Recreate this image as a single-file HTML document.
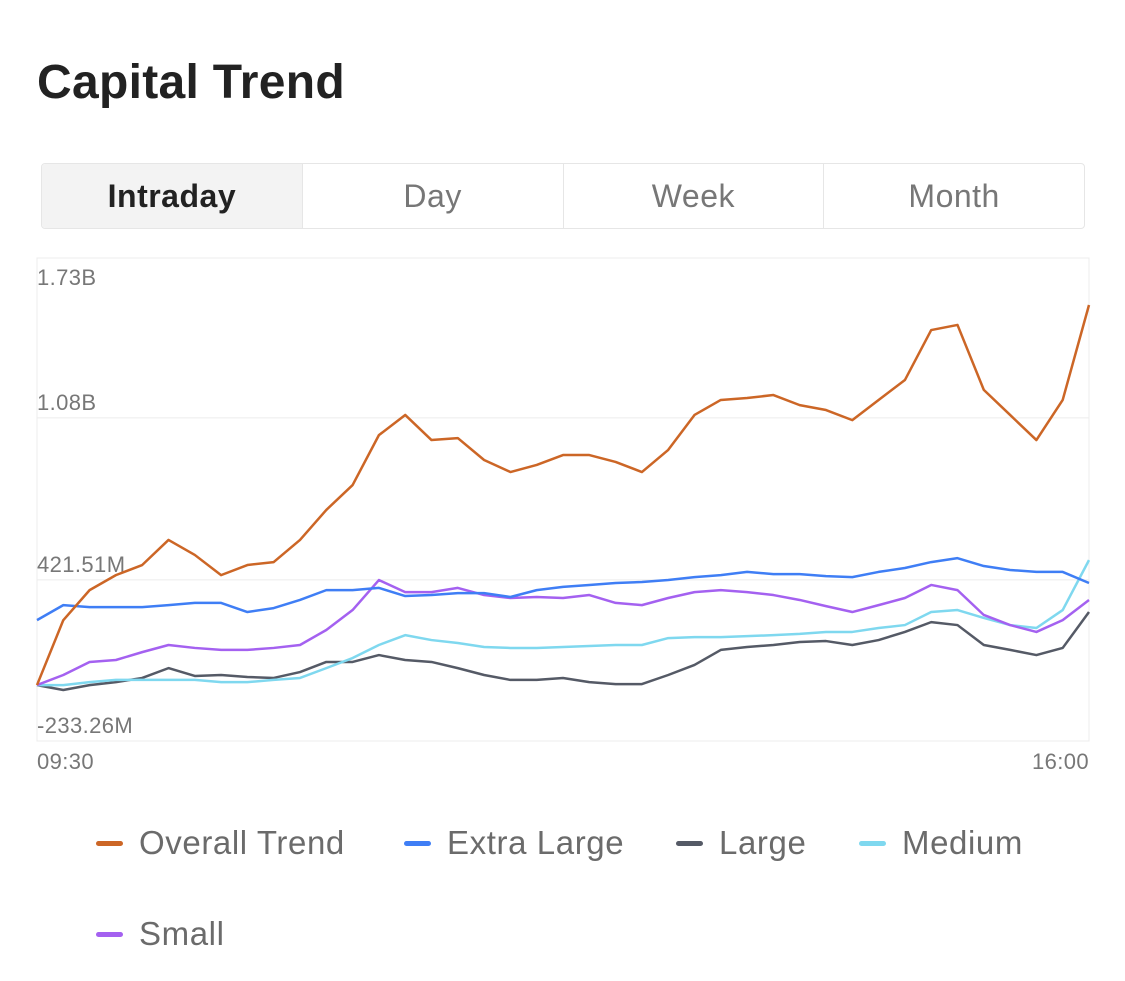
<!DOCTYPE html>
<html><head><meta charset="utf-8"><style>
body{margin:0;width:1125px;height:981px;background:#fff;font-family:"Liberation Sans",sans-serif;overflow:hidden;position:relative}
#title{position:absolute;left:37px;top:55px;font-size:48px;font-weight:bold;color:#222;letter-spacing:0.3px}
#tabs{position:absolute;left:41px;top:163px;width:1042px;height:64px;border:1px solid #e6e6e6;border-radius:4px;display:flex;overflow:hidden}
.tab{flex:1;display:flex;align-items:center;justify-content:center;font-size:32px;color:#777;border-left:1px solid #e6e6e6;letter-spacing:0.5px}
.tab:first-child{border-left:none;background:#f3f3f3;color:#222;font-weight:bold}
.leg{position:absolute;font-size:33px;color:#6b6b6b;display:flex;align-items:center;letter-spacing:0.6px}
.leg i{display:inline-block;width:27px;height:5px;border-radius:3px;margin-right:16px}
</style></head><body>
<div id="title">Capital Trend</div>
<div id="tabs">
<div class="tab">Intraday</div>
<div class="tab">Day</div>
<div class="tab">Week</div>
<div class="tab">Month</div>
</div>
<svg id="chart" width="1125" height="981" style="position:absolute;left:0;top:0"></svg>
<div class="leg" style="left:96px;top:824px"><i style="background:#cc6626"></i>Overall Trend</div>
<div class="leg" style="left:404px;top:824px"><i style="background:#3f7ef5"></i>Extra Large</div>
<div class="leg" style="left:676px;top:824px"><i style="background:#555a66"></i>Large</div>
<div class="leg" style="left:859px;top:824px"><i style="background:#7fd8ef"></i>Medium</div>
<div class="leg" style="left:96px;top:915px"><i style="background:#a461f0"></i>Small</div>
<script>
const yTicks=[1730,1080,421.51,-233.26];
const yTickLabels=["1.73B","1.08B","421.51M","-233.26M"];
const xLabels=["09:30","16:00"];
const overall=[-6,258,380,441,482,584,523,441,482,494,584,706,807,1010,1092,990,998,909,860,889,929,929,901,860,950,1092,1153,1161,1173,1132,1112,1071,1153,1234,1437,1458,1194,1092,990,1153,1539];
const extraLarge=[258,319,311,311,311,319,328,328,291,307,340,380,380,389,356,360,368,368,352,380,393,401,409,413,421,433,441,454,445,445,437,433,454,470,494,510,478,462,454,454,409];
const large=[-6,-26,-6,6,23,63,31,35,27,23,47,88,88,116,96,88,63,35,15,15,23,6,-2,-2,35,76,137,149,157,169,173,157,177,210,250,238,157,137,116,145,291];
const medium=[-6,-6,6,15,15,15,15,6,6,15,23,63,104,157,197,177,165,149,145,145,149,153,157,157,185,189,189,193,197,202,210,210,226,238,291,299,267,238,226,299,502];
const small=[-6,35,88,96,128,157,145,137,137,145,157,218,299,421,372,372,389,360,348,352,348,360,328,319,348,372,380,372,360,340,315,291,319,348,401,380,279,238,210,258,340];
const svg=document.getElementById('chart');const NS='http://www.w3.org/2000/svg';
const L=37,R=1089,T=258,B=741,vmax=1730,vmin=-233.26;
const yS=v=>T+(vmax-v)/(vmax-vmin)*(B-T);
const xS=i=>L+i/(overall.length-1)*(R-L);
function mk(t,a){const e=document.createElementNS(NS,t);for(const k in a)e.setAttribute(k,a[k]);svg.appendChild(e);return e;}
const fr=mk('rect',{x:L,y:T,width:R-L,height:B-T,fill:'none',stroke:'#ececec','stroke-width':1});


yTicks.forEach((v,i)=>{const y=yS(v);
const g=mk('line',{x1:L,x2:R,y1:y,y2:y,stroke:'#ececec','stroke-width':1});


const ly=i===0?y+27:y-8;
const t=mk('text',{x:L,y:ly,'font-size':22,fill:'#777','letter-spacing':'0.4','font-family':'Liberation Sans, sans-serif'});t.textContent=yTickLabels[i];

});
xLabels.forEach((s,i)=>{const t=mk('text',{x:i?R:L,y:769,'font-size':22,fill:'#777','letter-spacing':'0.4','text-anchor':i?'end':'start','font-family':'Liberation Sans, sans-serif'});t.textContent=s;

});
[[large,'#555a66','line-large'],[medium,'#7fd8ef','line-medium'],[small,'#a461f0','line-small'],[extraLarge,'#3f7ef5','line-extra-large'],[overall,'#cc6626','line-overall-trend']].forEach(([d,c,n])=>{
const p=mk('polyline',{points:d.map((v,i)=>xS(i)+','+yS(v)).join(' '),fill:'none',stroke:c,'stroke-width':2.5,'stroke-linejoin':'round'});

});
</script>
</body></html>
